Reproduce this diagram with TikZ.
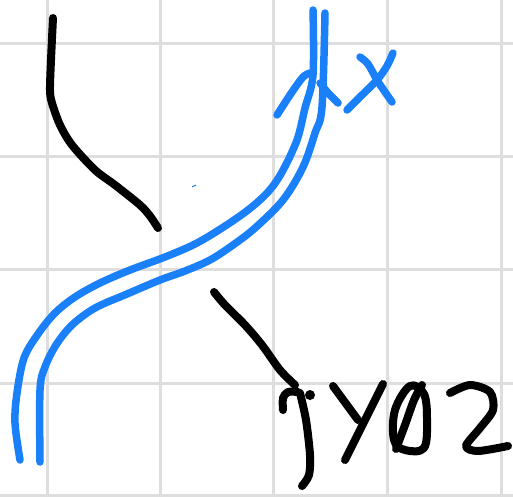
\documentclass[tikz,border=0pt]{standalone}
\usepackage{xcolor}
\usepackage{tikz}
\definecolor{penblue}{RGB}{26,128,250}
\definecolor{gridgray}{RGB}{222,222,222}
\tikzset{
  gridline/.style={draw=gridgray, line width=3pt},
  blackink/.style={draw=black, line width=8pt, line cap=round, line join=round},
  blueink/.style={draw=penblue, line width=7.5pt, line cap=round, line join=round},
}

\begin{document}
\begin{tikzpicture}[x=1pt, y=-1pt]
  \useasboundingbox (0,0) rectangle (513,496);
  \fill[white] (0,0) rectangle (513,496);

  % grid
  \foreach \gx in {47,160,273,387,501}
    \draw[gridline] (\gx,0) -- (\gx,496);
  \foreach \gy in {43,156,269,383,495}
    \draw[gridline] (0,\gy) -- (513,\gy);

  % black strand, upper part
  \draw[blackink] plot[smooth, tension=0.5] coordinates {
    (53,18) (51,60) (50,90) (52,103) (60,125) (72,145) (95,170) (115,185) (140,205) (150,216) (158,228)};
  % black strand, lower part
  \draw[blackink] plot[smooth, tension=0.5] coordinates {
    (214,292) (225,305) (245,325) (262,345) (280,370) (295,385)};

  % blue double strand
  \draw[blueink] plot[smooth, tension=0.55] coordinates {
    (20,460) (15,423) (17,393) (24,358) (38,334) (55,313) (75,297) (100,283) (130,270) (165,257)
    (195,244) (222,228) (248,210) (268,192) (282,172) (297,140) (305,108)
    (313,75) (313,10)};
  \draw[blueink] plot[smooth, tension=0.55] coordinates {
    (40,462) (40,390) (45,367) (56,345) (72,325) (95,308) (127,294) (160,280)
    (185,271) (210,260) (233,245) (255,228) (283,200) (303,167) (315,133) (322,107) (325,13)};
  % arrow head
  \draw[blueink] plot[smooth, tension=0.5] coordinates {(277,115) (292,92) (303,77) (310,73)};
  \draw[blueink] (320,83) -- (328,93) -- (338,103);
  % blue speck
  \draw[penblue, line width=1pt] (192,187) -- (196,185);

  % label x
  \draw[blueink] plot[smooth, tension=0.5] coordinates {(360,57) (368,64) (377,80) (385,92) (392,102)};
  \draw[blueink] plot[smooth, tension=0.5] coordinates {(393,53) (387,66) (377,80) (360,97) (347,110)};

  % handwritten label below
  \draw[blackink] plot[smooth, tension=0.5] coordinates {(283,410) (283,398) (288,392) (298,392)};
  \fill (310,395) circle (5pt);
  \draw[blackink] plot[smooth, tension=0.5] coordinates {(300,393) (306,420) (310,455) (309,475) (302,486)};
  \draw[blackink] (333,386) -- (358,420);
  \draw[blackink] (383,384) -- (345,460);
  \draw[blackink] plot[smooth cycle, tension=0.6] coordinates {(410,386) (424,394) (427,420) (424,448) (405,450) (394,440) (395,410)};
  \draw[blackink] plot[smooth, tension=0.5] coordinates {(396,449) (405,425) (414,400) (422,385)};
  \draw[blackink] plot[smooth, tension=0.5] coordinates {(450,393) (470,385) (490,392) (493,410) (480,428) (466,446) (478,451) (508,446)};
\end{tikzpicture}
\end{document}
